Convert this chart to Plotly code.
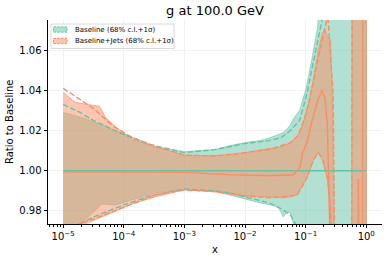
import numpy as np
import plotly.graph_objects as go

TITLE = "g at 100.0 GeV"
LEG_BASE = "Baseline (68% c.l.+1σ)"
LEG_JETS = "Baseline+Jets (68% c.l.+1σ)"

# ---- Baseline: +1 sigma band (filled), log10(x) positions ----
bl_band_lx = [-5, -4.75, -4.55, -4.36, -4.14, -3.48, -3.0, -2.5, -2.25, -2.0, -1.75, -1.58,
              -1.45, -1.37, -1.3, -1.25, -1.2, -1.1, -1.0, -0.9, -0.8, -0.7, 0.0]
bl_band_hi = [1.029, 1.027, 1.025, 1.0225, 1.020, 1.012, 1.0095, 1.0105, 1.0125, 1.014, 1.015, 1.0165,
              1.018, 1.019, 1.021, 1.023, 1.026, 1.030, 1.040, 1.055, 1.072, 1.15, 1.15]
bl_band_lo = [0.960, 0.973, 0.978, 0.9835, 0.983, 0.989, 0.9905, 0.9898, 0.988, 0.986, 0.984, 0.983,
              0.982, 0.977, 0.9795, 0.979, 0.9735, 0.965, 0.95, 0.90, 0.85, 0.85, 0.85]

# ---- Baseline: 68% c.l. (dashed) ----
bl_cl_lx = [-5, -4.72, -4.5, -4.0, -3.56, -3.0, -2.5, -2.25, -2.0, -1.6, -1.4, -1.25, -1.1,
            -0.98, -0.73, -0.6, 0.0]
bl_cl_hi = [1.033, 1.029, 1.025, 1.018, 1.013, 1.009, 1.0105, 1.012, 1.0135, 1.015, 1.0165, 1.020, 1.025,
            1.038, 1.075, 1.15, 1.15]
bl_cl_lo = [0.965, 0.9735, 0.977, 0.983, 0.9875, 0.991, 0.990, 0.989, 0.987, 0.984, 0.981, 0.978, 0.970,
            0.95, 0.90, 0.85, 0.85]

# ---- Baseline central ----
bl_c_lx = [-5, 0.0]
bl_c = [1.0, 1.0]

# ---- Baseline+Jets: +1 sigma band (filled) ----
jt_band_lx = [-5, -4.8, -4.6, -4.4, -4.3, -4.14, -3.86, -3.48, -3.0, -2.5, -2.25, -2.0, -1.6, -1.37,
              -1.25, -1.14, -1.06, -0.97, -0.87, -0.79, -0.73, -0.68, -0.64, -0.59, -0.56, -0.53,
              -0.5, -0.24, -0.23, 0.0]
jt_band_hi = [1.039, 1.034, 1.033, 1.032, 1.0265, 1.022, 1.0156, 1.0118, 1.0077, 1.0075, 1.008, 1.009,
              1.011, 1.012, 1.014, 1.017, 1.022, 1.031, 1.046, 1.060, 1.068, 1.0705, 1.067, 1.065,
              1.038, 0.96, 0.90, 0.90, 1.20, 1.20]
jt_band_lo = [0.958, 0.970, 0.974, 0.9765, 0.978, 0.980, 0.9835, 0.987, 0.9905, 0.9895, 0.9885, 0.9875,
              0.987, 0.9865, 0.987, 0.988, 0.992, 0.997, 1.0055, 1.009, 1.006, 1.001, 0.996, 0.982,
              0.96, 0.93, 0.90, 0.85, 0.80, 0.80]

# ---- Baseline+Jets: 68% c.l. (dashed) ----
jt_clhi_lx = [-5, -4.5, -4.17, -3.86, -3.56, -3.0, -2.5, -2.25, -2.0, -1.58, -1.25, -1.14, -1.09,
              -1.0, -0.92, -0.8, -0.65, -0.64, -0.63, -0.545, -0.5, -0.24, -0.23, 0.0]
jt_cl_hi = [1.041, 1.031, 1.022, 1.0166, 1.013, 1.0077, 1.0073, 1.008, 1.009, 1.0107, 1.014, 1.017, 1.020,
            1.028, 1.037, 1.055, 1.075, 1.080, 1.075, 1.038, 0.90, 0.90, 1.20, 1.20]
jt_cllo_lx = [-5, -4.75, -4.5, -4.17, -3.86, -3.48, -3.0, -2.5, -2.0, -1.6, -1.25, -1.14, -1.06,
              -0.97, -0.87, -0.79, -0.71, -0.64, -0.59, -0.55, -0.5, 0.0]
jt_cl_lo = [0.962, 0.9735, 0.976, 0.980, 0.9835, 0.988, 0.9905, 0.9897, 0.9875, 0.9865, 0.9875, 0.988, 0.992,
            0.997, 1.0055, 1.009, 1.005, 0.996, 0.982, 0.96, 0.90, 0.85]

# ---- Baseline+Jets central ----
jt_c_lx = [-5, -4, -3, -2.25, -1.6, -1.2, -1.09, -1.05, -0.98, -0.9, -0.8, -0.73, -0.68, -0.64, -0.6,
           -0.57, -0.14, -0.13, -0.12, -0.06, -0.055, 0.0]
jt_c = [0.9995, 0.9993, 0.9992, 0.998, 0.9975, 0.998, 1.002, 1.009, 1.014, 1.024, 1.035, 1.040, 1.036,
        1.022, 0.99, 0.93, 0.93, 0.996, 0.93, 0.93, 1.20, 1.20]

x_ticks = [1e-5, 1e-4, 1e-3, 1e-2, 1e-1, 1e0]
x_tick_text = ["10<sup>−5</sup>", "10<sup>−4</sup>", "10<sup>−3</sup>", "10<sup>−2</sup>",
               "10<sup>−1</sup>", "10<sup>0</sup>"]
y_ticks = [0.98, 1.00, 1.02, 1.04, 1.06]

TEAL = "#66c2a5"
ORANGE = "#fc8d62"
TEAL_FILL = "rgba(102,194,165,0.5)"
ORANGE_FILL = "rgba(252,141,98,0.5)"
DASH = "5.5px,2.4px"

# plot-area geometry in pixels (figure 391x260)
W, H = 391, 260
PL, PR, PT, PB = 48, 382, 20, 224


def X(lx):
    return list(10.0 ** np.asarray(lx, dtype=float))


def px(xp):
    return (xp - PL) / (PR - PL)


def py(yp):
    return 1 - (yp - PT) / (PB - PT)


def band(lx, hi, lo, fill, edge):
    xs = X(lx)
    return go.Scatter(x=xs + xs[::-1], y=list(hi) + list(lo)[::-1], fill="toself",
                      fillcolor=fill, mode="lines", line=dict(color=edge, width=0.8),
                      hoverinfo="skip", showlegend=False)


def line(lx, y, color, dash=None, width=1.4):
    return go.Scatter(x=X(lx), y=y, mode="lines", showlegend=False, hoverinfo="skip",
                      line=dict(color=color, width=width, dash=dash))


fig = go.Figure()
fig.add_trace(band(bl_band_lx, bl_band_hi, bl_band_lo, TEAL_FILL, "rgba(102,194,165,0.7)"))
fig.add_trace(band(jt_band_lx, jt_band_hi, jt_band_lo, ORANGE_FILL, "rgba(252,141,98,0.9)"))
fig.add_trace(line(bl_cl_lx, bl_cl_hi, TEAL, DASH))
fig.add_trace(line(bl_cl_lx, bl_cl_lo, TEAL, DASH))
fig.add_trace(line(jt_clhi_lx, jt_cl_hi, ORANGE, DASH))
fig.add_trace(line(jt_cllo_lx, jt_cl_lo, ORANGE, DASH))
fig.add_trace(line(bl_c_lx, bl_c, TEAL))
fig.add_trace(line(jt_c_lx, jt_c, ORANGE))

minor_vals = [k * 10.0 ** n for n in range(-6, 1) for k in range(2, 10)]

# hand-drawn legend (matplotlib-like compact box)
shapes = [
    dict(type="rect", xref="paper", yref="paper", x0=px(51), x1=px(174), y0=py(24), y1=py(48.5),
         fillcolor="rgba(255,255,255,0.8)", line=dict(color="#d0d0d0", width=0.8), layer="above"),
]
annotations = []
for i, (lbl, fc, lc) in enumerate([(LEG_BASE, TEAL_FILL, TEAL), (LEG_JETS, ORANGE_FILL, ORANGE)]):
    cy = 29.5 + i * 11.5
    shapes.append(dict(type="rect", xref="paper", yref="paper", x0=px(53.5), x1=px(67),
                       y0=py(cy - 2.6), y1=py(cy + 2.6), fillcolor=fc,
                       line=dict(color=lc, width=1.0, dash="2.5px,1.2px"), layer="above"))
    annotations.append(dict(text=lbl, xref="paper", yref="paper", x=px(73), y=py(cy),
                            xanchor="left", yanchor="middle", showarrow=False,
                            font=dict(size=7)))

annotations += [
    dict(text="x", xref="paper", yref="paper", x=0.5, y=py(249),
         xanchor="center", yanchor="middle", showarrow=False, font=dict(size=10)),
    dict(text="Ratio to Baseline", xref="paper", yref="paper", x=px(9), y=0.5,
         xanchor="center", yanchor="middle", textangle=-90, showarrow=False,
         font=dict(size=10)),
]

fig.update_layout(
    width=W, height=H,
    margin=dict(l=PL, r=W - PR, t=PT, b=H - PB, autoexpand=False),
    paper_bgcolor="white", plot_bgcolor="white",
    font=dict(family="DejaVu Sans", size=10, color="#000000"),
    title=dict(text=TITLE, x=(PL + PR) / 2 / W, xanchor="center", y=1 - 10.5 / H,
               yanchor="middle", font=dict(size=13)),
    showlegend=False,
    xaxis=dict(type="log", range=[-5.25, 0.26], tickmode="array", tickvals=x_ticks,
               ticktext=x_tick_text, ticks="outside", ticklen=3.5, tickwidth=0.8,
               tickcolor="#000", showline=True, linecolor="#000", linewidth=0.9,
               showgrid=True, gridcolor="#f1f1f1", gridwidth=0.8, zeroline=False,
               minor=dict(tickmode="array", tickvals=minor_vals, ticks="outside", ticklen=2,
                          tickwidth=0.6, tickcolor="#000", showgrid=False)),
    yaxis=dict(range=[0.9735, 1.075], tickmode="array", tickvals=y_ticks, tickformat=".2f",
               ticks="outside", ticklen=3.5, tickwidth=0.8, tickcolor="#000", showline=True,
               linecolor="#000", linewidth=0.9, showgrid=True, gridcolor="#f1f1f1",
               gridwidth=0.8, zeroline=False),
    shapes=shapes,
    annotations=annotations,
)

fig.write_html("out.html", config={"displayModeBar": False},
               post_script="document.body.style.margin='0';document.body.style.padding='0';")
